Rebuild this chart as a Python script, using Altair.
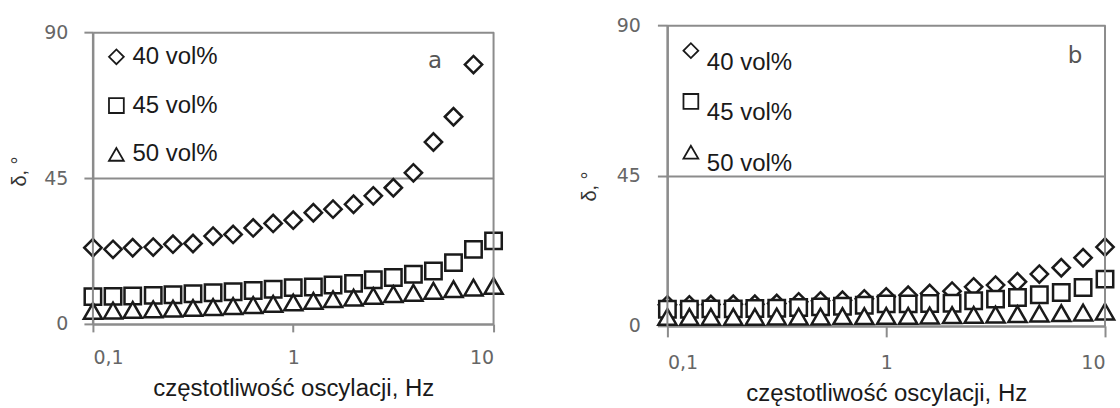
import altair as alt
import pandas as pd

# ---------------- data ----------------
freq = [0.1, 0.126, 0.158, 0.2, 0.251, 0.316, 0.398, 0.501, 0.631, 0.794,
        1.0, 1.26, 1.58, 2.0, 2.51, 3.16, 3.98, 5.01, 6.31, 7.94, 10.0]
series = ["40 vol%", "45 vol%", "50 vol%"]
shapes = ["diamond", "square", "triangle-up"]
sizes = [300, 270, 330]

# panel a
a40 = [23.5, 23.0, 23.5, 23.7, 24.6, 24.8, 27.1, 27.6, 29.6, 31.0,
       32.0, 34.3, 35.4, 36.9, 39.5, 42.0, 46.6, 56.1, 63.9, 80.0]
a45 = [8.4, 8.5, 8.6, 8.8, 9.0, 9.3, 9.6, 9.9, 10.3, 10.7,
       11.2, 11.4, 12.0, 12.5, 13.6, 14.3, 15.3, 16.3, 18.9, 23.0, 25.6]
a50 = [4.0, 4.1, 4.3, 4.5, 4.7, 4.9, 5.2, 5.5, 5.8, 6.2,
       6.6, 7.1, 7.6, 8.1, 8.6, 9.2, 9.6, 10.2, 10.7, 11.2, 11.7]

# panel b
b40 = [6.3, 6.3, 6.4, 6.5, 6.5, 6.7, 7.2, 7.5, 7.7, 8.1,
       8.7, 9.2, 9.7, 10.4, 11.7, 12.2, 13.2, 15.5, 17.4, 20.4, 23.6]
b45 = [5.0, 5.0, 5.1, 5.1, 5.2, 5.3, 5.5, 5.7, 5.9, 6.2,
       6.6, 6.6, 6.7, 6.8, 7.5, 8.0, 8.5, 9.3, 10.0, 11.5, 14.0]
b50 = [2.7, 2.7, 2.7, 2.7, 2.7, 2.8, 2.8, 2.8, 2.9, 2.9,
       3.0, 3.0, 3.1, 3.2, 3.3, 3.4, 3.5, 3.7, 3.8, 4.0, 4.3]

x_ticks = [0.1, 1, 10]
x_tick_labels = ["0,1", "1", "10"]
y_ticks = [0, 45, 90]

panel_letters = ["a", "b"]
letter_x = [5.1, 7.3]
letter_y = [81, 80.7]

x_title = "częstotliwość oscylacji, Hz"
y_title = "δ, °"

GREY = "#8c8c8c"
INK = "#1a1a1a"

label_expr = " : ".join(
    f"abs(datum.value - {v}) < 1e-6 ? '{l}'" for v, l in zip(x_ticks, x_tick_labels)
) + " : ''"


def panel(vals, width, height, yrange, letter, lx, ly, tick_x, tick_y,
          ylab_pad, xlab_pad, ytitle_x, ytitle_y, xtitle_y,
          leg_x, leg_y, row_pad, label_baseline):
    rows = []
    for name, vs in zip(series, vals):
        for f, v in zip(freq, vs):
            rows.append({"f": f, "v": v, "series": name})
    df = pd.DataFrame(rows)

    xs = alt.Scale(type="log", domain=[0.1, 10], nice=False)
    ys = alt.Scale(domain=[0, 90], range=yrange, nice=False, zero=False)
    shape_scale = alt.Scale(domain=series, range=shapes)
    stroke_scale = alt.Scale(domain=series, range=[INK] * len(series))

    x_axis = alt.Axis(values=x_ticks, labelExpr=label_expr, grid=False, orient="bottom",
                      domain=True, ticks=True,
                      domainColor=GREY, domainWidth=2, tickColor=GREY, tickWidth=2,
                      tickSize=tick_x, labelFont="DejaVu Sans", labelFontSize=19,
                      labelColor="#666666", labelPadding=xlab_pad,
                      title=x_title, titleFont="Liberation Sans", titleFontSize=24,
                      titleFontWeight="normal", titleColor=INK,
                      titleBaseline="alphabetic", titleY=xtitle_y)
    y_axis = alt.Axis(values=y_ticks, grid=True, gridColor=GREY, gridWidth=2,
                      orient="left", domain=True, ticks=True,
                      domainColor=GREY, domainWidth=2, tickColor=GREY, tickWidth=2,
                      tickSize=tick_y, labelFont="DejaVu Sans", labelFontSize=19,
                      labelColor="#666666", labelPadding=ylab_pad,
                      title=y_title, titleFont="Liberation Sans", titleFontSize=20,
                      titleFontWeight="normal", titleColor="#333333",
                      titleBaseline="alphabetic", titleX=ytitle_x, titleY=ytitle_y)
    legend = alt.Legend(orient="none", legendX=leg_x, legendY=leg_y, title=None,
                        padding=0, labelFont="Liberation Sans", labelFontSize=24,
                        labelColor=INK, labelOffset=4, labelBaseline=label_baseline,
                        symbolSize=220, symbolStrokeWidth=1.8,
                        symbolFillColor="white", rowPadding=row_pad)

    layers = []
    for name, sz in zip(series, sizes):
        layers.append(
            alt.Chart(df).transform_filter(alt.datum.series == name)
            .mark_point(size=sz, filled=False, fill="white",
                        strokeWidth=2.5, opacity=1)
            .encode(
                x=alt.X("f:Q", scale=xs, axis=x_axis),
                y=alt.Y("v:Q", scale=ys, axis=y_axis),
                shape=alt.Shape("series:N", scale=shape_scale, legend=legend),
                stroke=alt.Stroke("series:N", scale=stroke_scale, legend=legend),
            )
        )
    ann = pd.DataFrame({"f": [lx], "v": [ly], "t": [letter]})
    layers.append(
        alt.Chart(ann).mark_text(font="DejaVu Sans", fontSize=23, color="#555555")
        .encode(x=alt.X("f:Q", scale=xs, axis=x_axis),
                y=alt.Y("v:Q", scale=ys, axis=y_axis), text="t:N")
    )
    # frame edges at the ends of the x range
    edges = pd.DataFrame({"f": [x_ticks[0], x_ticks[-1]],
                          "lo": [y_ticks[0]] * 2, "hi": [y_ticks[-1]] * 2})
    layers.append(
        alt.Chart(edges).mark_rule(color=GREY, strokeWidth=2).encode(
            x=alt.X("f:Q", scale=xs, axis=x_axis),
            y=alt.Y("lo:Q", scale=ys, axis=y_axis),
            y2="hi:Q",
        )
    )
    return alt.layer(*layers).properties(width=width, height=height)


left = panel([a40, a45, a50], 401, 299, [299, 7], panel_letters[0],
             letter_x[0], letter_y[0], 8, 9, 16, 17, -67, 146, 72,
             11.5, 19.7, 24.8, "middle")
right = panel([b40, b45, b50], 438, 301, [301, 0], panel_letters[1],
              letter_x[1], letter_y[1], 11, 10, 17, 17, -72, 161, 75,
              11.5, 13.5, 14.8, "top")

chart = alt.hconcat(left, right, spacing=174, bounds="flush").resolve_scale(
    shape="independent", stroke="independent", x="independent", y="independent"
).resolve_legend(shape="independent", stroke="independent").properties(
    padding={"left": 10, "top": 16, "right": 0, "bottom": 0},
    background="white",
).configure_view(stroke=None)

chart.save("out.html", embed_options={"renderer": "svg", "actions": False})
